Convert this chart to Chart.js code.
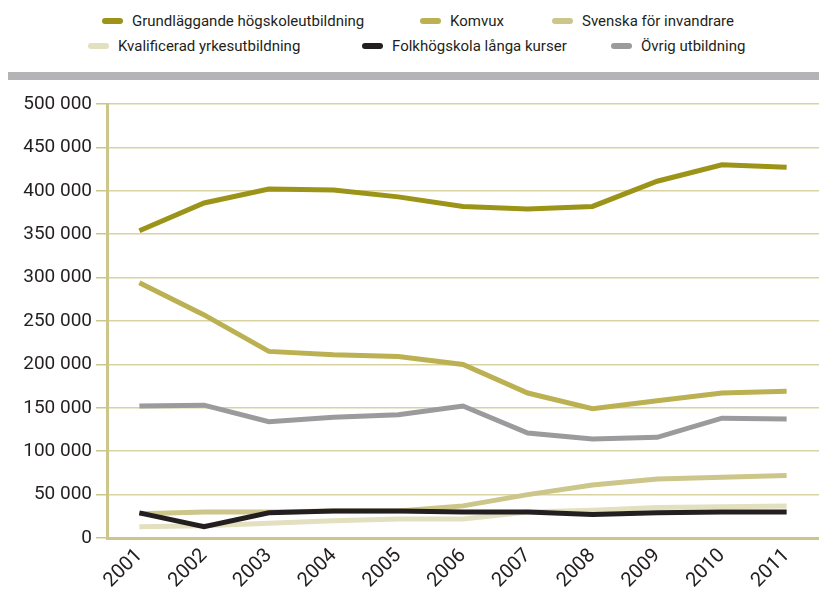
<!DOCTYPE html>
<html>
<head>
<meta charset="utf-8">
<script src="https://cdn.jsdelivr.net/npm/chart.js@4"></script>
<style>
  html, body { margin: 0; padding: 0; background: #fff; }
  #wrap { position: relative; width: 819px; height: 590px; }
  #bar { position: absolute; left: 8px; top: 72px; width: 811px; height: 8px; background: #b4b4b6; }
  #legend { position: absolute; left: 0; top: 0; width: 819px; height: 60px; font-family: Roboto, "Noto Sans", sans-serif; font-size: 15px; color: #231f20; }
  .item { position: absolute; display: flex; align-items: center; white-space: nowrap; height: 20px; }
  .sw { width: 21px; height: 6px; border-radius: 3px; margin-right: 9px; }
  canvas { position: absolute; left: 0; top: 0; }
</style>
</head>
<body>
<div id="wrap">
  <div id="legend"></div>
  <div id="bar"></div>
  <canvas id="chart1" width="819" height="590"></canvas>
</div>
<script>
const years = ['2001', '2002', '2003', '2004', '2005', '2006', '2007', '2008', '2009', '2010', '2011'];

const seriesNames = ['Grundläggande högskoleutbildning', 'Komvux', 'Svenska för invandrare',
                     'Kvalificerad yrkesutbildning', 'Folkhögskola långa kurser', 'Övrig utbildning'];

const hogskola = [354000, 386000, 402000, 401000, 393000, 382000, 379000, 382000, 411000, 430000, 427000];
const komvux = [294000, 257000, 215000, 211000, 209000, 200000, 167000, 149000, 158000, 167000, 169000];
const sfi = [28000, 30000, 30000, 31000, 31000, 37000, 50000, 61000, 68000, 70000, 72000];
const kyh = [13000, 14000, 17000, 20000, 22000, 22000, 30000, 32000, 35000, 36000, 37000];
const folkhogskola = [29000, 13000, 29000, 31000, 31000, 30000, 30000, 27000, 29000, 30000, 30000];
const ovrig = [152000, 153000, 134000, 139000, 142000, 152000, 121000, 114000, 116000, 138000, 137000];

const colors = ['#9c9418', '#bbb152', '#cdc68a', '#e3e0c0', '#231f20', '#9b9b9d'];
const values = [hogskola, komvux, sfi, kyh, folkhogskola, ovrig];
const drawOrder = [2, 3, 4, 5, 0, 1];

// legend swatch positions, two rows
const legendPos = [[102, 21], [420, 21], [552, 21], [88, 46], [362, 46], [611, 46]];
const legend = document.getElementById('legend');
seriesNames.forEach((name, i) => {
    const el = document.createElement('div');
    el.className = 'item';
    el.style.left = legendPos[i][0] + 'px';
    el.style.top = (legendPos[i][1] - 10) + 'px';
    el.innerHTML = '<span class="sw" style="background:' + colors[i] + '"></span><span>' + name + '</span>';
    legend.appendChild(el);
});

const ctx = document.getElementById('chart1');
const tickFont = {family: 'Roboto', size: 19};

new Chart(ctx, {
    type: 'line',
    data: {
        labels: years,
        datasets: values.map((v, i) => ({
            label: seriesNames[i],
            data: v,
            borderColor: colors[i],
            backgroundColor: colors[i],
            borderWidth: 5,
            pointRadius: 0,
            tension: 0,
            order: drawOrder[i]
        }))
    },
    options: {
        responsive: false,
        animation: false,
        layout: {padding: {top: 104, right: 0, left: 0, bottom: 0}},
        scales: {
            x: {
                offset: true,
                afterFit: s => { s.height = 52; },
                grid: {display: false, drawTicks: false},
                border: {color: '#cdc68a', width: 3},
                ticks: {font: {family: 'Roboto', size: 20}, color: '#231f20', maxRotation: 45, minRotation: 45, padding: 6}
            },
            y: {
                min: 0,
                max: 500000,
                afterFit: s => { s.width = 107; },
                grid: {color: '#d8d3a0', lineWidth: 1.5, tickLength: 11, tickColor: '#cdc68a'},
                border: {color: '#cdc68a', width: 3},
                ticks: {
                    stepSize: 50000,
                    font: tickFont,
                    color: '#231f20',
                    padding: 4,
                    callback: v => String(v).replace(/\B(?=(\d{3})+(?!\d))/g, ' ')
                }
            }
        },
        plugins: {
            legend: {display: false},
            tooltip: {enabled: false}
        }
    }
});
</script>
</body>
</html>
